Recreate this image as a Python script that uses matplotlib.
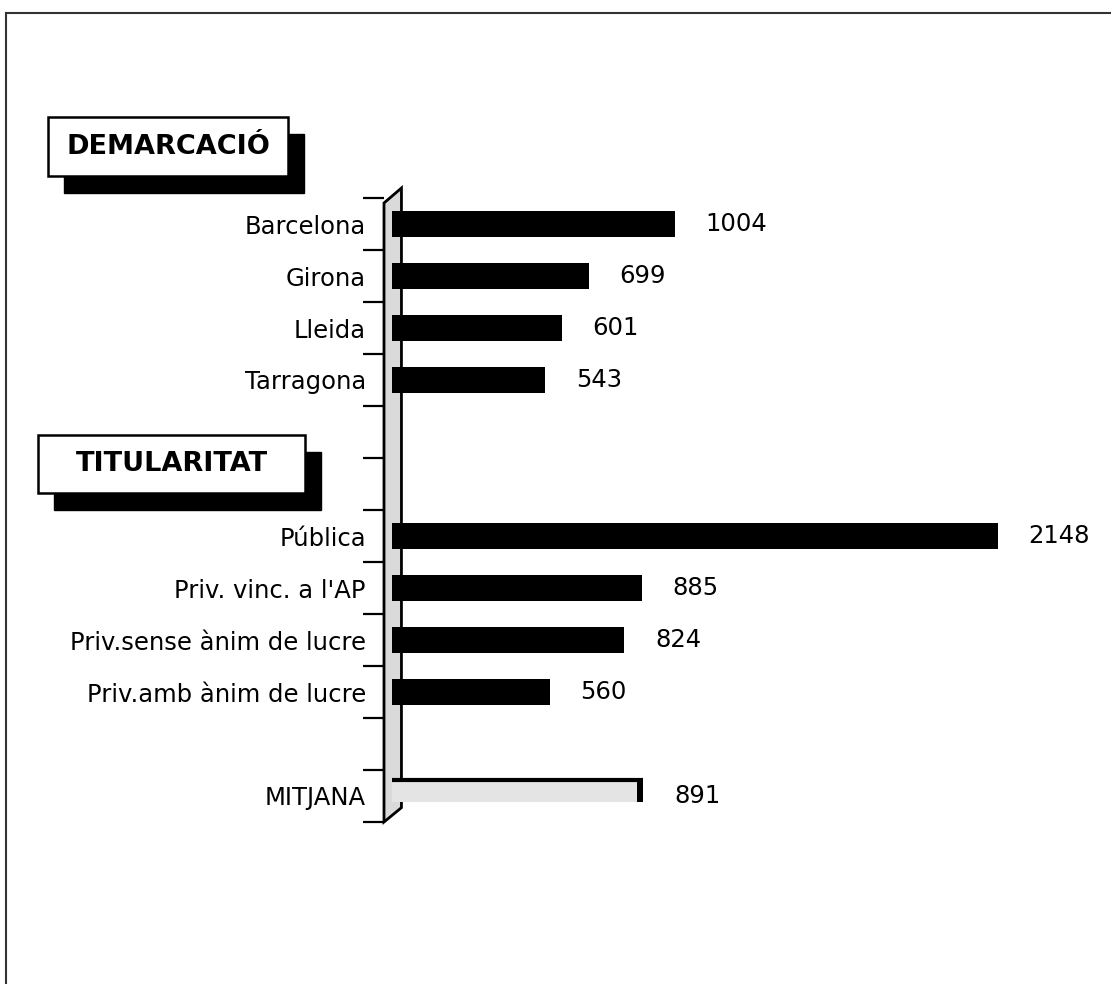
import matplotlib.pyplot as plt
from matplotlib.patches import Rectangle, Polygon
from matplotlib.lines import Line2D

# data
categories = ["Barcelona", "Girona", "Lleida", "Tarragona", "", "",
              "Pública", "Priv. vinc. a l'AP", "Priv.sense ànim de lucre",
              "Priv.amb ànim de lucre", "", "MITJANA"]
values = [1004, 699, 601, 543, None, None, 2148, 885, 824, 560, None, 891]
group_titles = ["DEMARCACIÓ", "TITULARITAT"]

W, H = 1111, 984
fig = plt.figure(figsize=(W / 100, H / 100), dpi=100)
plt.rcParams['font.family'] = 'DejaVu Sans'

# axes placed in pixels
ax_l, ax_r, ax_t, ax_b = 384, 1111, 198, 822
ax = fig.add_axes([ax_l / W, 1 - ax_b / H, (ax_r - ax_l) / W, (ax_b - ax_t) / H])
ax.set_xlim(-28.4, 2549)
ax.set_ylim(len(categories) - 0.5, -0.5)
for s in ax.spines.values():
    s.set_visible(False)
ax.set_xticks([])

# category labels + slot ticks
ax.set_yticks(range(len(categories)))
ax.set_yticklabels(categories, fontsize=17.5)
ax.tick_params(axis='y', which='major', length=0, pad=13)
ax.set_yticks([i - 0.5 for i in range(len(categories) + 1)], minor=True)
ax.tick_params(axis='y', which='minor', length=15, width=1.6, direction='out')

# 3d wall on the left
wall = Polygon([(0, 0), (0, 0.992), (0.024, 1.016), (0.024, 0.023)],
               closed=True, transform=ax.transAxes, facecolor='#dadada',
               edgecolor='black', linewidth=2, clip_on=False, zorder=1)
ax.add_patch(wall)

# bars
for i, v in enumerate(values):
    if v is None:
        continue
    if categories[i] == "MITJANA":
        ax.barh(i - 0.1, v, height=0.42, color='#e4e4e4', zorder=2)
        ax.plot([0, v], [i - 0.31, i - 0.31], color='black', lw=3, zorder=3,
                solid_capstyle='butt')
        ax.barh(i - 0.1, 21, left=v - 21, height=0.42, color='black', zorder=3)
    else:
        ax.barh(i, v, height=0.5, color='black', zorder=2)
    ax.annotate(str(v), (v, i), xytext=(22, 0), textcoords='offset points',
                va='center', ha='left', fontsize=17.5)

# group title boxes with drop shadow (pixel coords)
boxes = [(48, 117, 288, 176), (38, 435, 305, 493)]
for title, (x0, y0, x1, y1) in zip(group_titles, boxes):
    sh = Rectangle(((x0 + 16) / W, 1 - (y1 + 17) / H), (x1 - x0) / W, (y1 - y0) / H,
                   transform=fig.transFigure, facecolor='black', edgecolor='black')
    bx = Rectangle((x0 / W, 1 - y1 / H), (x1 - x0) / W, (y1 - y0) / H,
                   transform=fig.transFigure, facecolor='white', edgecolor='black',
                   linewidth=1.8)
    fig.patches.extend([sh, bx])
    fig.text((x0 + x1) / 2 / W, 1 - (y0 + y1) / 2 / H, title, ha='center',
             va='center', fontsize=19.5, fontweight='bold')

# outer frame (top and left only)
fig.lines.append(Line2D([6 / W, 1], [1 - 13 / H, 1 - 13 / H], transform=fig.transFigure,
                        color='#333333', lw=1.5))
fig.lines.append(Line2D([6 / W, 6 / W], [0, 1 - 13 / H], transform=fig.transFigure,
                        color='#333333', lw=1.5))

fig.savefig('out.png', dpi=100)
